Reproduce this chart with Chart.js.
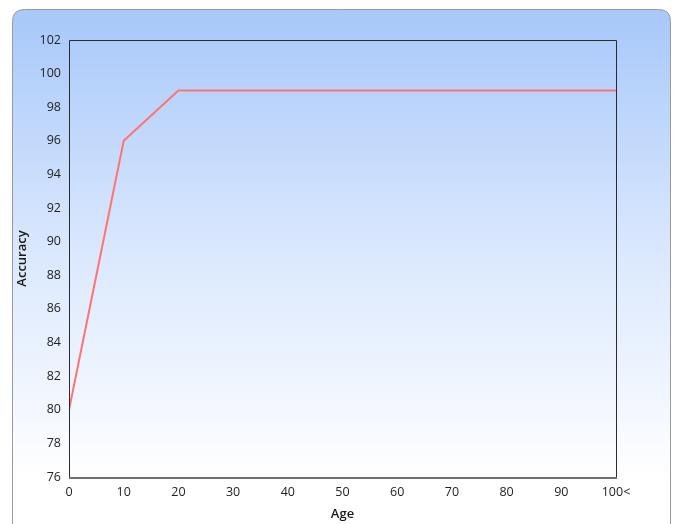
<!DOCTYPE html>
<html>
<head>
<meta charset="utf-8">
<script src="https://cdn.jsdelivr.net/npm/chart.js@4/dist/chart.umd.min.js"></script>
<style>
html,body{margin:0;padding:0;background:#fff;}
canvas{display:block;}
</style>
</head>
<body>
<canvas id="c" width="674" height="524"></canvas>
<script>
const ages = [0, 10, 20, 30, 40, 50, 60, 70, 80, 90, 100];
const accuracy = [80, 96, 99, 99, 99, 99, 99, 99, 99, 99, 99];
const lastTickLabel = '100<';
const seriesName = 'Accuracy';

const bgPlugin = {
  id: 'bgBox',
  beforeDraw(chart) {
    const ctx = chart.ctx;
    const x0 = 12.5, y0 = 9.5, x1 = 670.5, y1 = 540, r = 12;
    ctx.save();
    const g = ctx.createLinearGradient(0, y0, 0, 480);
    g.addColorStop(0, '#a7c8fa');
    g.addColorStop(0.5, '#d9e7fd');
    g.addColorStop(1, '#ffffff');
    ctx.beginPath();
    ctx.moveTo(x0 + r, y0);
    ctx.lineTo(x1 - r, y0);
    ctx.quadraticCurveTo(x1, y0, x1, y0 + r);
    ctx.lineTo(x1, y1);
    ctx.lineTo(x0, y1);
    ctx.lineTo(x0, y0 + r);
    ctx.quadraticCurveTo(x0, y0, x0 + r, y0);
    ctx.closePath();
    ctx.fillStyle = g;
    ctx.fill();
    ctx.strokeStyle = '#9a9a9a';
    ctx.lineWidth = 1;
    ctx.stroke();
    ctx.restore();
  },
  afterDraw(chart) {
    const {ctx, chartArea: a} = chart;
    ctx.save();
    ctx.strokeStyle = '#2b2b2b';
    ctx.lineWidth = 1;
    ctx.beginPath();
    ctx.moveTo(a.left + 0.5, a.bottom);
    ctx.lineTo(a.left + 0.5, a.top + 0.5);
    ctx.lineTo(a.right + 0.5, a.top + 0.5);
    ctx.lineTo(a.right + 0.5, a.bottom);
    ctx.stroke();
    ctx.strokeStyle = '#6e6e6e';
    ctx.lineWidth = 2;
    ctx.beginPath();
    ctx.moveTo(a.left, a.bottom + 1);
    ctx.lineTo(a.right + 1, a.bottom + 1);
    ctx.stroke();
    ctx.restore();
  }
};

new Chart(document.getElementById('c'), {
  type: 'line',
  data: {
    datasets: [{
      label: seriesName,
      data: ages.map((a, i) => ({x: a, y: accuracy[i]})),
      borderColor: '#ff7373',
      borderWidth: 2,
      pointRadius: 0,
      fill: false,
      tension: 0
    }]
  },
  options: {
    responsive: false,
    animation: false,
    devicePixelRatio: 1,
    layout: {padding: {left: 0, right: 58, top: 40, bottom: 0}},
    plugins: {legend: {display: false}, tooltip: {enabled: false}},
    scales: {
      x: {
        type: 'linear', min: 0, max: 100,
        afterFit(s) { s.height = 47; },
        grid: {display: false, drawTicks: false},
        border: {display: false},
        ticks: {
          stepSize: 10, padding: 8, color: '#222',
          font: {family: 'Open Sans', size: 12.5},
          maxRotation: 0,
          callback: v => v === 100 ? lastTickLabel : v
        },
        title: {display: true, text: 'Age', color: '#1a1a1a',
          font: {family: 'Open Sans', size: 13, weight: '600'}, padding: {top: 2, bottom: 2}}
      },
      y: {
        min: 76, max: 102,
        afterFit(s) { s.width = 69; },
        grid: {display: false, drawTicks: false},
        border: {display: false},
        ticks: {stepSize: 2, padding: 8, color: '#222',
          font: {family: 'Open Sans', size: 12.5}},
        title: {display: true, text: 'Accuracy', color: '#1a1a1a',
          font: {family: 'Open Sans', size: 13, weight: '600'}, padding: {top: 14, bottom: 14}}
      }
    }
  },
  plugins: [bgPlugin]
});
</script>
</body>
</html>
